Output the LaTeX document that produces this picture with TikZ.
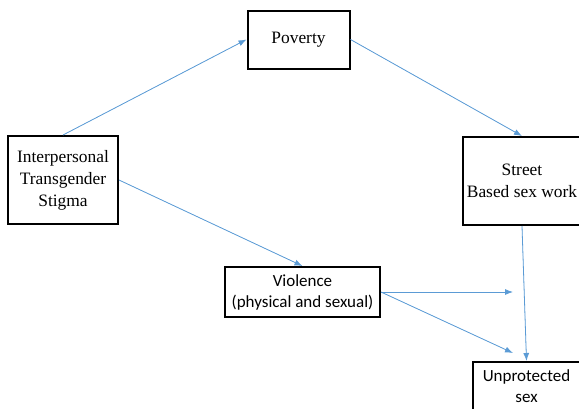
\documentclass[tikz,border=0pt]{standalone}
\usepackage{fontspec}
\setmainfont{Liberation Serif}
\setsansfont{Carlito}
\usetikzlibrary{arrows.meta}
\definecolor{linkblue}{RGB}{91,155,213}

\begin{document}
\begin{tikzpicture}[
        x=1pt, y=-1pt,
        factor/.style={rectangle, draw, line width=2pt, align=center, inner sep=0pt, font=\rmfamily\fontsize{17.4}{22}\selectfont},
        sansfactor/.style={factor, font=\sffamily\fontsize{17}{21}\selectfont},
        arrow/.style={-{Latex[length=8pt,width=6pt]}, draw=linkblue, fill=linkblue, line width=0.8pt}
    ]
        \clip (0,0) rectangle (579,408);

        % Boxes of the model
        \node[factor, minimum width=110pt, minimum height=88pt] (stigma) at (63,180) {Interpersonal\\Transgender\\Stigma};
        \node[factor, minimum width=102pt, minimum height=58pt] (poverty) at (298.5,39.5) {Poverty};
        \node[factor, minimum width=118pt, minimum height=88pt] (street) at (522,181) {Street\\Based sex work};
        \node[sansfactor, minimum width=155pt, minimum height=50pt] (violence) at (302.5,292) {Violence\\(physical and sexual)};
        \node[sansfactor, minimum width=107pt, minimum height=56pt, text depth=8pt] (unprotected) at (526.5,390) {Unprotected\\sex};

        % Loose arrow ends
        \coordinate (mid) at (513,292);
        \coordinate (low) at (513,353);

        % Connect boxes
        \draw[arrow] (stigma.north) -- (poverty.west);
        \draw[arrow] (poverty.east) -- (street.north);
        \draw[arrow] (stigma.east) -- (violence.north);
        \draw[arrow] (street.south) -- (unprotected.north);
        \draw[arrow] (violence.east) -- (mid);
        \draw[arrow] (violence.east) -- (low);
    \end{tikzpicture}
\end{document}
